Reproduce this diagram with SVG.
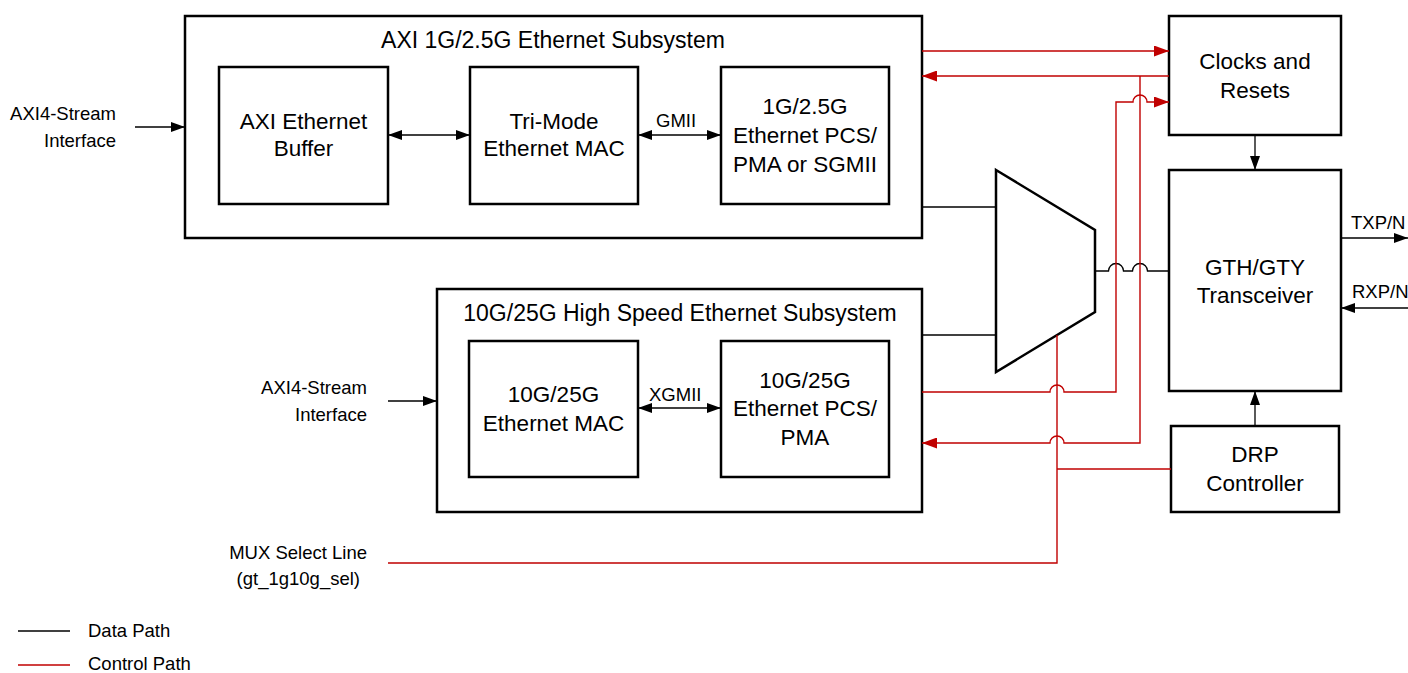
<svg xmlns="http://www.w3.org/2000/svg" width="1408" height="673" viewBox="0 0 1408 673">
<style>
.box{fill:#fff;stroke:#000;stroke-width:2.5}
.t{font-family:"Liberation Sans",Arial,sans-serif;font-size:22.5px;fill:#000;text-anchor:middle}
.h{font-size:23px}
.s{font-family:"Liberation Sans",Arial,sans-serif;font-size:18.5px;fill:#000}
.e{text-anchor:end}
.d{fill:none;stroke:#000;stroke-width:1.3}
.c{fill:none;stroke:#C00000;stroke-width:1.4}
</style>
<defs>
<marker id="ab" markerUnits="userSpaceOnUse" markerWidth="14" markerHeight="10" refX="14" refY="5" orient="auto-start-reverse"><path d="M0,0 L14,5 L0,10 z" fill="#000"/></marker>
<marker id="ar" markerUnits="userSpaceOnUse" markerWidth="15" markerHeight="11" refX="15" refY="5.5" orient="auto-start-reverse"><path d="M0,0 L15,5.5 L0,11 z" fill="#C00000"/></marker>
</defs>
<g id="sub1g">
<rect class="box" x="185" y="16" width="737" height="222"/>
<text class="t h" x="553" y="48">AXI 1G/2.5G Ethernet Subsystem</text>
</g>
<g id="buffer">
<rect class="box" x="219" y="67" width="169" height="137"/>
<text class="t" x="303.5" y="129">AXI Ethernet</text>
<text class="t" x="303.5" y="156">Buffer</text>
</g>
<g id="trimode">
<rect class="box" x="470" y="67" width="168" height="137"/>
<text class="t" x="554" y="129">Tri-Mode</text>
<text class="t" x="554" y="156">Ethernet MAC</text>
</g>
<g id="pcs1g">
<rect class="box" x="721" y="67" width="168" height="137"/>
<text class="t" x="805" y="114">1G/2.5G</text>
<text class="t" x="805" y="143">Ethernet PCS/</text>
<text class="t" x="805" y="172">PMA or SGMII</text>
</g>
<g id="sub10g">
<rect class="box" x="437" y="289" width="485" height="223"/>
<text class="t h" x="680" y="321">10G/25G High Speed Ethernet Subsystem</text>
</g>
<g id="mac10g">
<rect class="box" x="469" y="341" width="169" height="136"/>
<text class="t" x="553.5" y="402">10G/25G</text>
<text class="t" x="553.5" y="431">Ethernet MAC</text>
</g>
<g id="pcs10g">
<rect class="box" x="721" y="341" width="168" height="136"/>
<text class="t" x="805" y="388">10G/25G</text>
<text class="t" x="805" y="416">Ethernet PCS/</text>
<text class="t" x="805" y="445">PMA</text>
</g>
<g id="clocks">
<rect class="box" x="1169" y="16" width="172" height="119"/>
<text class="t" x="1255" y="69">Clocks and</text>
<text class="t" x="1255" y="98">Resets</text>
</g>
<g id="gth">
<rect class="box" x="1169" y="170" width="172" height="221"/>
<text class="t" x="1255" y="275">GTH/GTY</text>
<text class="t" x="1255" y="303">Transceiver</text>
</g>
<g id="drp">
<rect class="box" x="1171" y="426" width="168" height="86"/>
<text class="t" x="1255" y="462">DRP</text>
<text class="t" x="1255" y="491">Controller</text>
</g>
<g id="mux">
<path class="box" d="M996,170 L1095,230 L1095,312 L996,372 Z"/>
</g>
<g id="labels">
<text class="s e" x="116" y="120">AXI4-Stream</text>
<text class="s e" x="116" y="147">Interface</text>
<text class="s e" x="367" y="394">AXI4-Stream</text>
<text class="s e" x="367" y="421">Interface</text>
<text class="s e" x="367" y="559">MUX Select Line</text>
<text class="s e" x="360" y="585">(gt_1g10g_sel)</text>
<text class="s" x="656" y="127">GMII</text>
<text class="s" x="649" y="401">XGMII</text>
<text class="s" x="1351" y="229">TXP/N</text>
<text class="s" x="1352" y="298">RXP/N</text>
</g>
<g id="connectors">
<path class="d" d="M135,127 H185" marker-end="url(#ab)"/>
<path class="d" d="M388,401 H437" marker-end="url(#ab)"/>
<path class="d" d="M388,135 H470" marker-start="url(#ab)" marker-end="url(#ab)"/>
<path class="d" d="M638,135 H721" marker-start="url(#ab)" marker-end="url(#ab)"/>
<path class="d" d="M638,408 H721" marker-start="url(#ab)" marker-end="url(#ab)"/>
<path class="d" d="M922,207 H996"/>
<path class="d" d="M922,335 H996"/>
<path class="d" d="M1095,271 H1108.5 A7.5,7.5 0 0 1 1123.5,271 H1132.5 A7.5,7.5 0 0 1 1147.5,271 H1169"/>
<path class="d" d="M1255,135 V170" marker-end="url(#ab)"/>
<path class="d" d="M1255,426 V391" marker-end="url(#ab)"/>
<path class="d" d="M1341,238 H1408" marker-end="url(#ab)"/>
<path class="d" d="M1408,308 H1341" marker-end="url(#ab)"/>
<path class="c" d="M922,51 H1169" marker-end="url(#ar)"/>
<path class="c" d="M1169,76 H922" marker-end="url(#ar)"/>
<path class="c" d="M1140,76 V443 H1064 A7,7 0 0 0 1050,443 H922" marker-end="url(#ar)"/>
<path class="c" d="M922,392 H1050 A7,7 0 0 1 1064,392 H1116 V102 H1133 A7,7 0 0 1 1147,102 H1169" marker-end="url(#ar)"/>
<path class="c" d="M388,563 H1057 V335"/>
<path class="c" d="M1057,469 H1171"/>
</g>
<g id="legend">
<path class="d" d="M18,631 H70"/>
<text class="s" x="88" y="637">Data Path</text>
<path class="c" d="M18,665 H70"/>
<text class="s" x="88" y="670">Control Path</text>
</g>
</svg>
